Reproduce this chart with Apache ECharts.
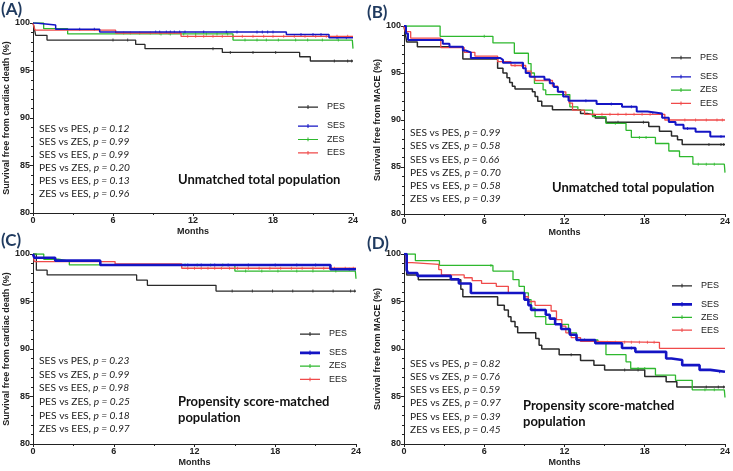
<!DOCTYPE html>
<html><head><meta charset="utf-8">
<script src="https://cdn.jsdelivr.net/npm/echarts@6/dist/echarts.min.js"></script>
<style>html,body{margin:0;padding:0;background:#fff}#c{width:733px;height:471px}</style>
</head><body><div id="c"></div>
<script>
// ---------- tick labels / categories ----------
const groups = ['PES', 'SES', 'ZES', 'EES'];
const xTicks = [0, 6, 12, 18, 24];
const yTicks = [80, 85, 90, 95, 100];
const panelLetters = ['(A)', '(B)', '(C)', '(D)'];
const yTitles = ['Survival free from cardiac death (%)', 'Survival free from MACE (%)',
                 'Survival free from cardiac death (%)', 'Survival free from MACE (%)'];
const populationTitles = [['Unmatched total population'], ['Unmatched total population'],
                          ['Propensity score-matched', 'population'], ['Propensity score-matched', 'population']];
const pairLabels = ['SES vs PES', 'SES vs ZES', 'SES vs EES', 'PES vs ZES', 'PES vs EES', 'ZES vs EES'];
const pValuesA = ['0.12', '0.99', '0.99', '0.20', '0.13', '0.96'];
const pValuesB = ['0.99', '0.58', '0.66', '0.70', '0.58', '0.39'];
const pValuesC = ['0.23', '0.99', '0.98', '0.25', '0.18', '0.97'];
const pValuesD = ['0.82', '0.76', '0.59', '0.97', '0.39', '0.45'];

// ---------- Kaplan-Meier curves [month, survival %] ----------
// (A) unmatched, cardiac death
const A_PES = [[0,100],[0.1,99.4],[0.2,98.7],[1.05,98.2],[7.7,97.75],[8.4,97.3],[14.2,96.9],[20.0,96.45],[20.8,96.0],[24,96.0]];
const A_SES = [[0,100],[0.2,99.8],[1.7,99.35],[5.0,99.05],[19.0,98.8],[22.2,98.45],[24,98.45]];
const A_ZES = [[0,100],[0.8,99.4],[2.6,98.85],[15.0,98.2],[23.95,98.2],[24,97.3]];
const A_EES = [[0,100],[0.15,99.25],[6.2,98.95],[11.1,98.6],[24,98.6]];
// (B) unmatched, MACE
const B_PES = [[0,100],[0.1,99.2],[0.2,98.3],[1.0,97.8],[4.4,96.5],[7.0,95.5],[7.4,95.0],[7.7,94.5],[7.9,94.0],[8.1,93.6],[8.3,93.3],[9.6,93.0],[9.8,92.5],[10.0,92.0],[10.3,91.5],[11.1,91.1],[13.2,90.7],[13.7,90.5],[14.3,90.2],[15.1,89.75],[18.3,89.3],[19.1,88.8],[20.0,88.3],[20.45,87.9],[20.8,87.4],[24,87.4]];
const B_SES = [[0,100],[0.15,99.2],[0.3,98.5],[2.9,98.1],[3.4,97.8],[4.4,97.4],[4.6,97.2],[5.0,96.6],[7.2,96.4],[7.4,96.1],[8.9,95.5],[9.1,95.0],[9.4,94.6],[10.5,94.3],[10.9,93.9],[11.2,93.5],[11.5,93.0],[11.9,92.5],[12.3,92.05],[14.4,91.7],[16.3,91.4],[17.4,90.9],[18.2,90.7],[19.3,90.25],[19.8,89.8],[20.3,89.5],[20.9,89.1],[21.8,88.75],[22.9,88.25],[24,88.25]];
const B_ZES = [[0,100],[2.7,98.9],[6.65,98.2],[8.25,97.1],[9.3,96.0],[9.5,95.0],[9.75,93.9],[10.4,93.2],[10.6,92.7],[12.4,91.4],[13.0,91.05],[14.1,90.35],[15.1,89.65],[16.6,88.9],[17.0,88.15],[18.8,87.5],[19.8,86.7],[20.6,86.1],[21.6,85.3],[23.95,85.3],[24,84.4]];
const B_EES = [[0,100],[0.1,99.4],[0.5,98.7],[2.75,97.7],[4.5,97.2],[5.3,96.8],[7.0,96.2],[8.0,95.8],[9.1,95.2],[9.5,94.6],[9.8,94.2],[11.1,93.6],[11.5,93.0],[12.1,92.5],[12.35,91.8],[12.6,91.05],[13.5,90.6],[19.5,90.0],[24,90.0]];
// (C) propensity matched, cardiac death
const C_PES = [[0,100],[0.25,98.3],[1.05,97.8],[7.7,97.25],[8.5,96.7],[13.6,96.1],[24,96.1]];
const C_SES = [[0,100],[0.1,99.6],[1.65,99.3],[5.0,98.85],[22.1,98.4],[24,98.4]];
const C_ZES = [[0,100],[0.8,99.45],[1.9,99.25],[2.7,98.85],[15.0,98.2],[23.95,98.2],[24,97.4]];
const C_EES = [[0,100],[0.1,99.2],[6.1,98.95],[11.05,98.5],[24,98.5]];
// (D) propensity matched, MACE
const D_PES = [[0,100],[0.2,97.8],[1.07,97.3],[4.25,96.3],[4.4,95.5],[7.0,94.6],[7.5,94.1],[7.8,93.4],[8.0,92.9],[8.3,92.35],[8.5,91.7],[9.85,91.1],[10.1,90.4],[10.3,90.0],[11.6,89.4],[13.2,88.8],[14.2,88.3],[15.0,87.8],[18.0,87.1],[19.6,86.55],[20.4,86.0],[24,86.0]];
const D_SES = [[0,100],[0.2,98.3],[0.3,98.0],[1.0,97.7],[3.5,97.35],[4.1,96.9],[5.0,95.9],[9.0,95.2],[9.3,94.6],[9.5,94.1],[10.6,93.6],[10.9,93.2],[11.3,92.6],[11.75,92.1],[12.4,91.5],[12.9,90.95],[14.3,90.6],[16.3,90.1],[17.3,89.7],[19.6,89.0],[20.0,88.85],[20.8,88.3],[22.1,87.8],[22.9,87.6],[24,87.6]];
const D_ZES = [[0,100],[0.85,99.3],[2.65,98.8],[6.65,98.2],[8.15,97.3],[8.6,96.6],[9.0,95.9],[9.3,95.2],[9.5,94.3],[9.8,93.4],[10.6,92.6],[12.3,91.7],[12.9,90.95],[14.5,90.6],[15.1,89.4],[16.6,88.65],[16.95,87.95],[18.8,87.25],[20.3,86.7],[21.55,85.7],[23.95,85.7],[24,84.9]];
const D_EES = [[0,100],[0.15,99.1],[0.6,98.9],[2.6,98.35],[2.8,97.8],[4.5,97.5],[5.1,97.2],[5.8,96.9],[6.9,96.6],[7.8,95.9],[9.0,95.5],[9.3,95.0],[9.8,94.6],[11.0,94.0],[11.4,93.1],[11.8,92.4],[12.1,91.7],[12.5,91.2],[13.2,90.8],[14.0,90.7],[19.1,90.07],[24,90.07]];

// ---------- censoring times (months) ----------
const A_PES_cens = [6.0,7.1,13.5,14.8,16.5,18.2,22.6,23.6,23.9];
const A_SES_cens = [3.5,4.6,9.2,9.5,10.0,10.3,10.6,11.0,11.4,12.8,14.5,15.3,16.8,17.2,17.6,18.0,20.1,21.0,21.6,22.8,23.5];
const A_ZES_cens = [9.6,10.3,11.3,12.2,13.0,13.8,14.6,15.9,16.8,17.5,18.4,19.7,20.6,21.7,22.9];
const A_EES_cens = [6.8,7.3,8.0,8.8,9.5,10.2,11.6,12.2,12.8,13.5,14.2,15.0,15.7,16.5,17.3,18.0,18.8,19.6,20.4,21.2,22.0,22.8,23.6];
const B_PES_cens = [16.0,17.9,22.8,23.7,23.9];
const B_SES_cens = [13.6,15.5,17.0,18.6,21.2,23.7];
const B_ZES_cens = [6.0,15.8,17.6,18.1,22.0,22.6,23.2];
const B_EES_cens = [7.4,8.3,8.8,14.2,14.8,15.4,16.0,16.6,17.2,17.8,18.4,21.0,21.8,22.6,23.4,23.8];
const C_PES_cens = [14.8,16.3,17.8,19.3,20.8,22.3,23.6,23.9];
const C_SES_cens = [11.5,12.5,13.5,14.5,16.0,18.0,19.6,21.0,23.5];
const C_ZES_cens = [11.3,12.2,13.2,14.1,15.8,17.0,18.2,19.6,20.8,22.5];
const C_EES_cens = [11.5,12.0,12.5,13.0,13.5,14.0,14.6,15.2,16.0,16.8,17.6,18.4,19.2,20.0,20.8,21.6,22.4,23.2,23.8];
const D_PES_cens = [12.5,16.5,17.5,22.6,23.5,23.9];
const D_SES_cens = [13.5,17.0,23.6];
const D_ZES_cens = [6.5,17.5,18.0,22.5,23.2];
const D_EES_cens = [14.5,15.2,15.8,16.5,17.0,17.6,18.2,18.7];

// ---------- styling ----------
const colors = {PES: '#2a2a2a', SES: '#1414c4', ZES: '#2eb82e', EES: '#f04a4a'};
const panels = [
  {curves: {PES: A_PES, SES: A_SES, ZES: A_ZES, EES: A_EES}, cens: {PES: A_PES_cens, SES: A_SES_cens, ZES: A_ZES_cens, EES: A_EES_cens}, p: pValuesA,
   grid: {left: 33, top: 23, width: 320, height: 190}, widths: {PES: 1.3, SES: 1.5, ZES: 1.3, EES: 1.3},
   letter: [1, 10], pText: [39, 128.3, 13.1], title: [178, 180], leg: [293, 102, 121, 13.4]},
  {curves: {PES: B_PES, SES: B_SES, ZES: B_ZES, EES: B_EES}, cens: {PES: B_PES_cens, SES: B_SES_cens, ZES: B_ZES_cens, EES: B_EES_cens}, p: pValuesB,
   grid: {left: 404, top: 26, width: 322, height: 188}, widths: {PES: 1.5, SES: 2, ZES: 1.3, EES: 1.3},
   letter: [367, 13], pText: [410, 132.7, 13.3], title: [552, 188.3], leg: [666, 52.7, 71.7, 13.3]},
  {curves: {PES: C_PES, SES: C_SES, ZES: C_ZES, EES: C_EES}, cens: {PES: C_PES_cens, SES: C_SES_cens, ZES: C_ZES_cens, EES: C_EES_cens}, p: pValuesC,
   grid: {left: 33, top: 254, width: 323, height: 190}, widths: {PES: 1.3, SES: 2.6, ZES: 1.3, EES: 1.3},
   letter: [1, 241], pText: [39, 361, 13.6], title: [178, 402.3], leg: [295, 329, 347.7, 13.3]},
  {curves: {PES: D_PES, SES: D_SES, ZES: D_ZES, EES: D_EES}, cens: {PES: D_PES_cens, SES: D_SES_cens, ZES: D_ZES_cens, EES: D_EES_cens}, p: pValuesD,
   grid: {left: 404, top: 254, width: 322, height: 190}, widths: {PES: 1.5, SES: 2.6, ZES: 1.3, EES: 1.3},
   letter: [367, 244], pText: [410, 363.3, 13.3], title: [523, 405.7], leg: [667, 280.7, 299.3, 12.9]}
];

function km(curve, t) {
  let v = curve[0][1];
  for (const [x, y] of curve) { if (x <= t) v = y; else break; }
  return v;
}

const axisFont = {fontFamily: 'Liberation Sans, Arial', fontWeight: 'bold', fontSize: 9, color: '#222'};
const grids = [], xAxes = [], yAxes = [], series = [], legends = [], graphics = [];
const drawOrder = ['PES', 'ZES', 'EES', 'SES'];

panels.forEach((P, i) => {
  grids.push(Object.assign({containLabel: false}, P.grid));
  xAxes.push({
    type: 'value', gridIndex: i, min: xTicks[0], max: xTicks[xTicks.length - 1], interval: xTicks[1] - xTicks[0],
    axisLine: {lineStyle: {color: '#222', width: 1}},
    axisTick: {length: 3, lineStyle: {color: '#222'}},
    minorTick: {show: true, splitNumber: 2, length: 2, lineStyle: {color: '#222'}},
    splitLine: {show: false},
    axisLabel: Object.assign({margin: 3}, axisFont),
    name: 'Months', nameLocation: 'middle', nameGap: 14,
    nameTextStyle: axisFont
  });
  yAxes.push({
    type: 'value', gridIndex: i, min: yTicks[0], max: yTicks[yTicks.length - 1], interval: yTicks[1] - yTicks[0],
    axisLine: {show: true, lineStyle: {color: '#222', width: 1}},
    axisTick: {show: true, length: 3, lineStyle: {color: '#222'}},
    minorTick: {show: true, splitNumber: 5, length: 2, lineStyle: {color: '#222'}},
    splitLine: {show: false},
    axisLabel: Object.assign({margin: 3}, axisFont),
    name: yTitles[i], nameLocation: 'middle', nameGap: 21, nameRotate: 90,
    nameTextStyle: axisFont
  });
  drawOrder.forEach(g => {
    series.push({
      name: g, type: 'line', step: 'end', xAxisIndex: i, yAxisIndex: i,
      data: P.curves[g], showSymbol: false, symbol: 'none', color: colors[g],
      lineStyle: {color: colors[g], width: P.widths[g]}, animation: false, silent: true
    });
    series.push({
      name: g + ' censored', type: 'scatter', xAxisIndex: i, yAxisIndex: i,
      data: P.cens[g].map(t => [t, km(P.curves[g], t)]),
      symbol: 'rect', symbolSize: [1, 3], itemStyle: {color: colors[g], opacity: 0.8}, animation: false, silent: true
    });
  });
  // legends
  const thin = 'path://M0,3.4h20v1.2h-20z M9.5,2h1v3.8h-1z';
  const thick = 'path://M0,2.6h20v2.8h-20z M9.5,1.6h1v4.6h-1z';
  const sesIcon = P.widths.SES > 2 ? thick : thin;
  const legCommon = {orient: 'vertical', left: P.leg[0], itemWidth: 20, itemHeight: 7, selectedMode: false,
    textStyle: {fontFamily: 'Liberation Sans, Arial', fontSize: 9, color: '#222', lineHeight: 12, padding: [0, 0, 0, 4]}};
  legends.push(Object.assign({}, legCommon, {top: P.leg[1] - 6, data: [{name: 'PES', icon: thin}]}));
  legends.push(Object.assign({}, legCommon, {top: P.leg[2] - 6, itemGap: P.leg[3] - 12,
    data: [{name: 'SES', icon: sesIcon}, {name: 'ZES', icon: thin}, {name: 'EES', icon: thin}]}));
  // panel letter
  graphics.push({type: 'text', x: P.letter[0], y: P.letter[1], silent: true,
    style: {text: panelLetters[i], fill: '#1f3a5f', font: 'bold 17px Lato, "Open Sans", sans-serif', verticalAlign: 'middle', textVerticalAlign: 'middle'}});
  // p-values
  P.p.forEach((pv, k) => {
    graphics.push({type: 'text', x: P.pText[0], y: P.pText[1] + k * P.pText[2], silent: true,
      style: {text: pairLabels[k] + ', {i|p = ' + pv + '}', fill: '#222',
        fontFamily: 'Lato', fontSize: 10.2, verticalAlign: 'middle', textVerticalAlign: 'middle',
        rich: {i: {fontFamily: 'Lato', fontSize: 10.2, fontStyle: 'italic', fill: '#222'}}}});
  });
  // population title
  populationTitles[i].forEach((line, k) => {
    graphics.push({type: 'text', x: P.title[0], y: P.title[1] + k * 16, silent: true,
      style: {text: line, fill: '#111', font: 'bold 13px Lato, sans-serif', verticalAlign: 'middle', textVerticalAlign: 'middle'}});
  });
});

const chart = echarts.init(document.getElementById('c'), null, {renderer: 'canvas'});
chart.setOption({
  backgroundColor: '#fff', animation: false,
  grid: grids, xAxis: xAxes, yAxis: yAxes, series: series, legend: legends, graphic: graphics
});
</script></body></html>
